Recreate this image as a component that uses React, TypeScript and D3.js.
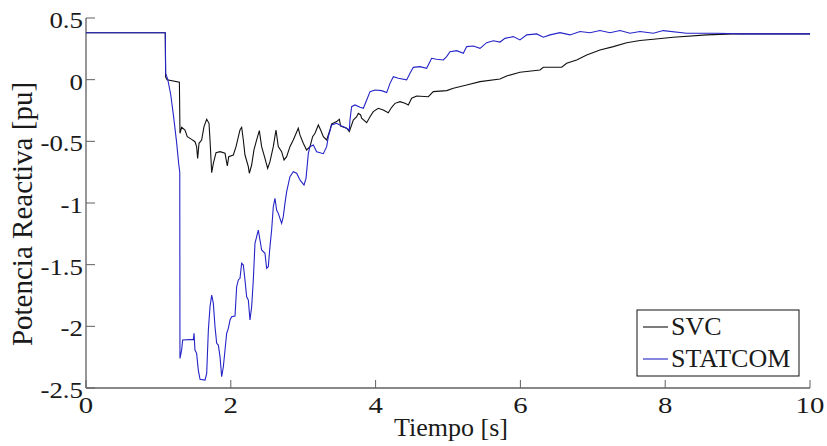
import React, { useEffect } from "react";
import * as d3 from "d3";

const xTicks = [0, 2, 4, 6, 8, 10];
const yTicks = [0.5, 0, -0.5, -1, -1.5, -2, -2.5];
const yTickLabels = ["0.5", "0", "-0.5", "-1", "-1.5", "-2", "-2.5"];
const seriesNames = ["SVC", "STATCOM"];

const svcData: [number, number][] = [
  [0, 0.38], [1.095, 0.38], [1.1, 0.02], [1.12, 0.0], [1.29, -0.02], [1.298, -0.435], [1.321, -0.386], [1.367, -0.408],
  [1.399, -0.462], [1.459, -0.484], [1.505, -0.503], [1.528, -0.543], [1.542, -0.638], [1.561, -0.516], [1.597, -0.489],
  [1.63, -0.381], [1.667, -0.321], [1.699, -0.354], [1.713, -0.489], [1.736, -0.754], [1.759, -0.678], [1.796, -0.592],
  [1.851, -0.584], [1.92, -0.597], [1.952, -0.7], [1.971, -0.624], [2.035, -0.611], [2.072, -0.543], [2.127, -0.408],
  [2.15, -0.386], [2.173, -0.489], [2.196, -0.611], [2.242, -0.705], [2.256, -0.759], [2.288, -0.692], [2.32, -0.57],
  [2.357, -0.489], [2.394, -0.413], [2.426, -0.543], [2.472, -0.638], [2.509, -0.719], [2.541, -0.665], [2.587, -0.543],
  [2.624, -0.408], [2.656, -0.543], [2.702, -0.584], [2.735, -0.651], [2.771, -0.624], [2.817, -0.543], [2.863, -0.489],
  [2.932, -0.394], [2.955, -0.448], [3.001, -0.516], [3.047, -0.57], [3.094, -0.543], [3.13, -0.462], [3.163, -0.435],
  [3.209, -0.367], [3.241, -0.408], [3.278, -0.462], [3.324, -0.489], [3.37, -0.408], [3.393, -0.359], [3.462, -0.34],
  [3.499, -0.321], [3.517, -0.376], [3.6, -0.394], [3.637, -0.421], [3.692, -0.327], [3.739, -0.3], [3.761, -0.273],
  [3.793, -0.286], [3.807, -0.313], [3.877, -0.349], [3.923, -0.3], [3.968, -0.259], [4.037, -0.232], [4.106, -0.246],
  [4.175, -0.268], [4.222, -0.224], [4.268, -0.192], [4.337, -0.178], [4.406, -0.192], [4.452, -0.205], [4.498, -0.151],
  [4.567, -0.132], [4.728, -0.138], [4.797, -0.097], [4.982, -0.089], [5.074, -0.07], [5.258, -0.043], [5.442, -0.016],
  [5.718, 0.005], [5.81, 0.03], [5.994, 0.06], [6.271, 0.079], [6.317, 0.101], [6.57, 0.101], [6.639, 0.133],
  [6.777, 0.16], [6.916, 0.2], [7.099, 0.241], [7.284, 0.268], [7.468, 0.3], [7.652, 0.317], [7.836, 0.328],
  [8.112, 0.344], [8.573, 0.363], [8.941, 0.371], [10, 0.371],
];

const statcomData: [number, number][] = [
  [0, 0.38], [1.095, 0.38], [1.1, 0.05], [1.13, 0.0], [1.17, -0.12], [1.21, -0.3], [1.25, -0.5], [1.28, -0.68],
  [1.295, -0.75], [1.298, -2.26], [1.321, -2.192], [1.335, -2.111], [1.483, -2.106], [1.492, -2.057], [1.505, -2.192],
  [1.528, -2.219], [1.551, -2.355], [1.575, -2.43], [1.644, -2.436], [1.667, -2.382], [1.69, -2.03], [1.713, -1.841],
  [1.736, -1.746], [1.759, -1.814], [1.782, -2.003], [1.805, -2.138], [1.828, -2.152], [1.851, -2.246], [1.874, -2.409],
  [1.897, -2.328], [1.92, -2.192], [1.943, -2.057], [1.966, -2.016], [1.989, -1.949], [2.012, -1.922], [2.058, -1.916],
  [2.081, -1.679], [2.104, -1.624], [2.127, -1.611], [2.15, -1.489], [2.173, -1.503], [2.196, -1.624], [2.219, -1.76],
  [2.242, -1.787], [2.265, -1.949], [2.288, -1.841], [2.311, -1.624], [2.334, -1.327], [2.38, -1.219], [2.403, -1.3],
  [2.426, -1.381], [2.472, -1.408], [2.495, -1.53], [2.518, -1.516], [2.541, -1.354], [2.564, -1.219], [2.587, -1.03],
  [2.61, -0.962], [2.633, -1.057], [2.656, -1.084], [2.702, -1.165], [2.725, -1.111], [2.748, -1.003], [2.771, -0.91],
  [2.817, -0.786], [2.863, -0.746], [2.91, -0.759], [2.955, -0.813], [3.011, -0.854], [3.039, -0.8], [3.071, -0.597],
  [3.094, -0.543], [3.14, -0.53], [3.186, -0.584], [3.278, -0.6], [3.324, -0.543], [3.347, -0.462], [3.393, -0.367],
  [3.462, -0.354], [3.531, -0.376], [3.6, -0.394], [3.637, -0.408], [3.646, -0.327], [3.669, -0.219], [3.716, -0.205],
  [3.785, -0.224], [3.831, -0.232], [3.877, -0.165], [3.923, -0.097], [3.992, -0.084], [4.084, -0.089], [4.153, -0.105],
  [4.199, -0.03], [4.245, 0.024], [4.314, 0.011], [4.429, -0.002], [4.475, 0.052], [4.521, 0.1], [4.613, 0.106],
  [4.705, 0.092], [4.774, 0.173], [4.843, 0.165], [4.935, 0.16], [4.981, 0.187], [5.028, 0.227], [5.12, 0.235],
  [5.212, 0.214], [5.258, 0.268], [5.35, 0.273], [5.442, 0.254], [5.534, 0.3], [5.626, 0.316], [5.718, 0.305],
  [5.787, 0.335], [5.902, 0.349], [5.994, 0.322], [6.087, 0.363], [6.225, 0.371], [6.317, 0.344], [6.409, 0.363],
  [6.547, 0.381], [6.685, 0.363], [6.823, 0.39], [6.961, 0.381], [7.099, 0.398], [7.238, 0.381], [7.376, 0.398],
  [7.514, 0.376], [7.652, 0.39], [7.836, 0.376], [7.974, 0.398], [8.296, 0.376], [8.71, 0.376], [9.033, 0.371],
  [10, 0.371],
];

const W = 827;
const H = 446;
const FONT = '"Liberation Serif", "Times New Roman", Times, serif';
const AXIS = "#606060";
const TEXT = "#1a1a1a";
const SVC_COLOR = "#111111";
const STAT_COLOR = "#2424c8";

export default function App() {
  useEffect(() => {
    document.body.style.margin = "0";
  }, []);

  const x = d3.scaleLinear().domain([0, 10]).range([86, 810]);
  const y = d3.scaleLinear().domain([-2.5, 0.5]).range([388, 18]);
  const line = d3
    .line<[number, number]>()
    .x((d) => x(d[0]))
    .y((d) => y(d[1]));

  const colors = [SVC_COLOR, STAT_COLOR];
  const fontStyle = { fontFamily: FONT };

  return (
    <svg width={W} height={H} style={{ position: "absolute", left: 0, top: 0, background: "#fff" }}>
      <rect x={0} y={0} width={W} height={H} fill="#fff" />
      {/* axes */}
      <line x1={x(0)} x2={x(0)} y1={y(0.5)} y2={y(-2.5)} stroke={AXIS} strokeWidth={1.3} />
      <line x1={x(0)} x2={x(10)} y1={y(-2.5)} y2={y(-2.5)} stroke={AXIS} strokeWidth={1.3} />
      {yTicks.map((t, i) => (
        <g key={"yt" + i}>
          <line x1={x(0)} x2={x(0) + 9} y1={y(t)} y2={y(t)} stroke={AXIS} strokeWidth={1} />
          <text
            transform={`translate(83,${y(t) + 10}) scale(1.12,1)`}
            textAnchor="end"
            fontSize={24}
            fill={TEXT}
            style={fontStyle}
          >
            {yTickLabels[i]}
          </text>
        </g>
      ))}
      {xTicks.map((t, i) => (
        <g key={"xt" + i}>
          <line x1={x(t)} x2={x(t)} y1={y(-2.5)} y2={y(-2.5) - 8} stroke={AXIS} strokeWidth={1} />
          <text
            transform={`translate(${x(t)},413) scale(1.2,1)`}
            textAnchor="middle"
            fontSize={24}
            fill={TEXT}
            style={fontStyle}
          >
            {String(t)}
          </text>
        </g>
      ))}
      {/* axis labels */}
      <text x={451} y={436} textAnchor="middle" fontSize={26} fill={TEXT} style={fontStyle}>
        Tiempo [s]
      </text>
      <text
        transform={`translate(32,214) rotate(-90)`}
        textAnchor="middle"
        fontSize={29}
        fill={TEXT}
        style={fontStyle}
      >
        Potencia Reactiva [pu]
      </text>
      {/* series */}
      <path d={line(svcData) || ""} fill="none" stroke={SVC_COLOR} strokeWidth={1.1} />
      <path d={line(statcomData) || ""} fill="none" stroke={STAT_COLOR} strokeWidth={1.1} />
      {/* legend */}
      <rect x={637} y={310} width={162} height={66} fill="#fff" stroke="#111" strokeWidth={1} />
      {seriesNames.map((n, i) => (
        <g key={n}>
          <line x1={643} x2={668} y1={327 + i * 32} y2={327 + i * 32} stroke={colors[i]} strokeWidth={1.1} />
          <text x={671} y={335 + i * 32} fontSize={26} fill={TEXT} style={fontStyle}>
            {n}
          </text>
        </g>
      ))}
    </svg>
  );
}
